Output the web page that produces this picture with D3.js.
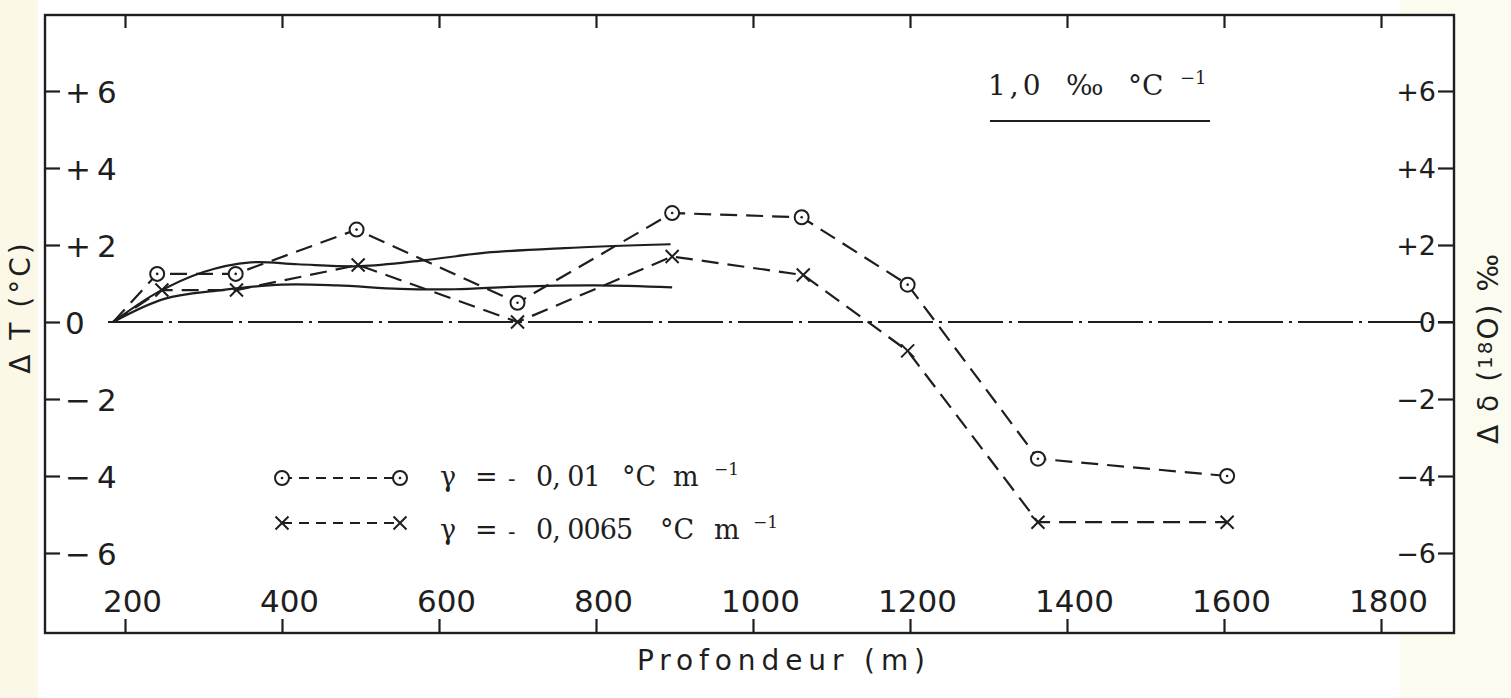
<!DOCTYPE html>
<html>
<head>
<meta charset="utf-8">
<script src="https://cdn.jsdelivr.net/npm/d3@7"></script>
<style>
  html, body { margin: 0; padding: 0; background: #ffffff; }
  svg { display: block; }
</style>
</head>
<body>
<script>
// Depth (m) vs temperature shift, two lapse rates plus the two smooth curves

// gamma = -0,01 °C/m (circles)
const depthCircle = [185, 241, 341, 495, 700, 897, 1062, 1197, 1363, 1604];
const dTCircle    = [0, 1.25, 1.25, 2.4, 0.5, 2.83, 2.72, 0.97, -3.55, -4.0];
// gamma = -0,0065 °C/m (crosses)
const depthCross  = [185, 247, 342, 497, 700, 897, 1064, 1197, 1363, 1604];
const dTCross     = [0, 0.83, 0.83, 1.48, 0, 1.7, 1.22, -0.75, -5.2, -5.2];

// the two solid curves (delta 18O scaled at 1,0 per mil / °C)
const upperDepth = [185, 240, 300, 360, 420, 500, 580, 660, 760, 895];
const upperVal   = [0, 0.75, 1.3, 1.55, 1.5, 1.45, 1.6, 1.8, 1.92, 2.02];
const lowerDepth = [185, 250, 320, 400, 470, 550, 620, 700, 800, 897];
const lowerVal   = [0, 0.6, 0.82, 0.97, 0.95, 0.86, 0.85, 0.92, 0.95, 0.9];

const xTicks = [200, 400, 600, 800, 1000, 1200, 1400, 1600, 1800];
const yTicks = [6, 4, 2, 0, -2, -4, -6];
const yTickLabels = ['+6', '+4', '+2', '0', '\u22122', '\u22124', '\u22126'];

// legend text pieces, in reading order
const legendPieces = [
    ['\u03b3', '=', '-', '0, 01', '\u00b0C', 'm'],
    ['\u03b3', '=', '-', '0, 0065', '\u00b0C', 'm']
];
const keyPieces = ['1,0', '\u2030', '\u00b0C'];

window.addEventListener('load', function() {
    let width = 1511;
    let height = 698;
    let ink = '#1e1e1e';
    let sans = "'DejaVu Sans', sans-serif";
    let serif = "'DejaVu Serif', serif";

    let frame = {left: 45, top: 15, right: 1454, bottom: 633};

    let x = d3.scaleLinear().domain([200, 1800]).range([125, 1381]);
    let y = d3.scaleLinear().domain([0, 6]).range([322, 91]);

    let svg = d3.select('body').append('svg')
        .attr('width', width)
        .attr('height', height);

    // cream edges of the scanned page
    svg.append('rect').attr('x', 0).attr('y', 0).attr('width', 38).attr('height', height).style('fill', '#fbf8e8');
    svg.append('rect').attr('x', 1400).attr('y', 0).attr('width', 111).attr('height', height).style('fill', '#fcfbf0');
    svg.append('rect')
        .attr('x', frame.left).attr('y', frame.top)
        .attr('width', frame.right - frame.left).attr('height', frame.bottom - frame.top)
        .style('fill', '#ffffff');

    // zero line, dash-dot
    svg.append('line')
        .attr('x1', 108).attr('x2', frame.right)
        .attr('y1', y(0)).attr('y2', y(0))
        .style('stroke', ink).style('stroke-width', 2)
        .style('stroke-dasharray', '55,6,3,6');

    // axes
    let styleAxis = function(g, size) {
        g.select('.domain').remove();
        g.selectAll('.tick line').style('stroke', ink).style('stroke-width', 2.2);
        g.selectAll('.tick text')
            .style('font-family', sans).style('font-size', size + 'px')
            .style('fill', ink);
    };

    svg.append('g')
        .attr('transform', 'translate(0,' + frame.top + ')')
        .call(d3.axisBottom(x).tickValues(xTicks).tickSize(13).tickFormat(''))
        .call(styleAxis, 30);

    svg.append('g')
        .attr('transform', 'translate(0,' + frame.bottom + ')')
        .call(d3.axisTop(x).tickValues(xTicks).tickSize(14).tickPadding(7).tickFormat(d3.format('d')))
        .call(styleAxis, 31)
        .call(g => g.selectAll('.tick text').attr('x', 7));

    svg.append('g')
        .attr('transform', 'translate(' + frame.left + ',0)')
        .call(d3.axisRight(y).tickValues(yTicks).tickSize(15).tickPadding(5)
            .tickFormat((d, i) => yTickLabels[i]))
        .call(styleAxis, 31)
        .call(g => g.selectAll('.tick text').style('letter-spacing', '6px').attr('dy', '0.36em'));

    svg.append('g')
        .attr('transform', 'translate(' + frame.right + ',0)')
        .call(d3.axisLeft(y).tickValues(yTicks).tickSize(16).tickPadding(2)
            .tickFormat((d, i) => yTickLabels[i]))
        .call(styleAxis, 27)
        .call(g => g.selectAll('.tick text').attr('dy', '0.36em'));

    // frame
    svg.append('rect')
        .attr('x', frame.left).attr('y', frame.top)
        .attr('width', frame.right - frame.left).attr('height', frame.bottom - frame.top)
        .style('fill', 'none').style('stroke', ink).style('stroke-width', 2.4);

    // smooth solid curves
    let smooth = d3.line()
        .x(d => x(d[0])).y(d => y(d[1]))
        .curve(d3.curveCatmullRom.alpha(0.5));
    [[upperDepth, upperVal], [lowerDepth, lowerVal]].forEach(function(c) {
        svg.append('path')
            .datum(d3.zip(c[0], c[1]))
            .attr('d', smooth)
            .style('fill', 'none').style('stroke', ink).style('stroke-width', 2.2);
    });

    // dashed series
    let straight = d3.line().x(d => x(d[0])).y(d => y(d[1]));
    let circleData = d3.zip(depthCircle, dTCircle);
    let crossData = d3.zip(depthCross, dTCross);
    [circleData, crossData].forEach(function(data) {
        svg.append('path')
            .datum(data)
            .attr('d', straight)
            .style('fill', 'none').style('stroke', ink).style('stroke-width', 2.2)
            .style('stroke-dasharray', '17,9');
    });

    function drawCircle(cx, cy) {
        svg.append('circle').attr('cx', cx).attr('cy', cy).attr('r', 7)
            .style('fill', '#ffffff').style('stroke', ink).style('stroke-width', 2);
        svg.append('circle').attr('cx', cx).attr('cy', cy).attr('r', 1.3).style('fill', ink);
    }
    function drawCross(cx, cy) {
        let s = 6.5;
        svg.append('path')
            .attr('d', 'M' + (cx - s) + ',' + (cy - s) + 'L' + (cx + s) + ',' + (cy + s) +
                       'M' + (cx + s) + ',' + (cy - s) + 'L' + (cx - s) + ',' + (cy + s))
            .style('stroke', ink).style('stroke-width', 2);
    }
    // first point (start at zero) has no marker
    circleData.slice(1).forEach(d => drawCircle(x(d[0]), y(d[1])));
    crossData.slice(1).forEach(d => drawCross(x(d[0]), y(d[1])));

    // legend
    let legendRows = [
        {y: 478, marker: drawCircle, textY: 486, px: [440, 475, 508, 536, 622, 673], sup: 714},
        {y: 523, marker: drawCross, textY: 539, px: [440, 475, 508, 536, 660, 714], sup: 753}
    ];
    legendRows.forEach(function(r, ri) {
        svg.append('line')
            .attr('x1', 282).attr('x2', 400).attr('y1', r.y).attr('y2', r.y)
            .style('stroke', ink).style('stroke-width', 1.8).style('stroke-dasharray', '10,7');
        r.marker(282, r.y);
        r.marker(400, r.y);
        legendPieces[ri].forEach(function(p, i) {
            svg.append('text')
                .attr('x', r.px[i]).attr('y', r.textY)
                .style('font-family', serif).style('font-size', i == 2 ? '22px' : '27px').style('fill', ink)
                .style('letter-spacing', i == 3 ? '-1px' : '0px')
                .text(p);
        });
        svg.append('text')
            .attr('x', r.sup).attr('y', r.textY - 11)
            .style('font-family', serif).style('font-size', '17px').style('fill', ink)
            .text('\u22121');
    });

    // scale key, top right
    let keyX = [988, 1066, 1128];
    keyPieces.forEach(function(p, i) {
        svg.append('text')
            .attr('x', keyX[i]).attr('y', 95)
            .style('font-family', serif).style('font-size', '28px').style('fill', ink)
            .style('letter-spacing', i == 0 ? '4px' : '0px')
            .text(p);
    });
    svg.append('text')
        .attr('x', 1180).attr('y', 84)
        .style('font-family', serif).style('font-size', '18px').style('fill', ink)
        .text('\u22121');
    svg.append('line')
        .attr('x1', 990).attr('x2', 1210).attr('y1', 121).attr('y2', 121)
        .style('stroke', ink).style('stroke-width', 2.2);

    // axis titles
    svg.append('text')
        .attr('x', 637).attr('y', 670)
        .attr('textLength', 288).attr('lengthAdjust', 'spacing')
        .style('font-family', sans).style('font-size', '28px').style('fill', ink)
        .text('Profondeur (m)');

    svg.append('text')
        .attr('transform', 'translate(30,307) rotate(-90)')
        .attr('text-anchor', 'middle')
        .style('font-family', sans).style('font-size', '28px').style('fill', ink)
        .style('letter-spacing', '3px')
        .text('\u0394 T (\u00b0C)');

    let rt = svg.append('text')
        .attr('transform', 'translate(1498,348) rotate(-90)')
        .attr('text-anchor', 'middle')
        .style('font-family', sans).style('font-size', '28px').style('fill', ink)
        .style('letter-spacing', '2px');
    rt.append('tspan').text('\u0394 \u03b4 (');
    rt.append('tspan').text('18').style('font-size', '20px').attr('dy', -6);
    rt.append('tspan').text('O) \u2030').attr('dy', 6);
});
</script>
</body>
</html>
